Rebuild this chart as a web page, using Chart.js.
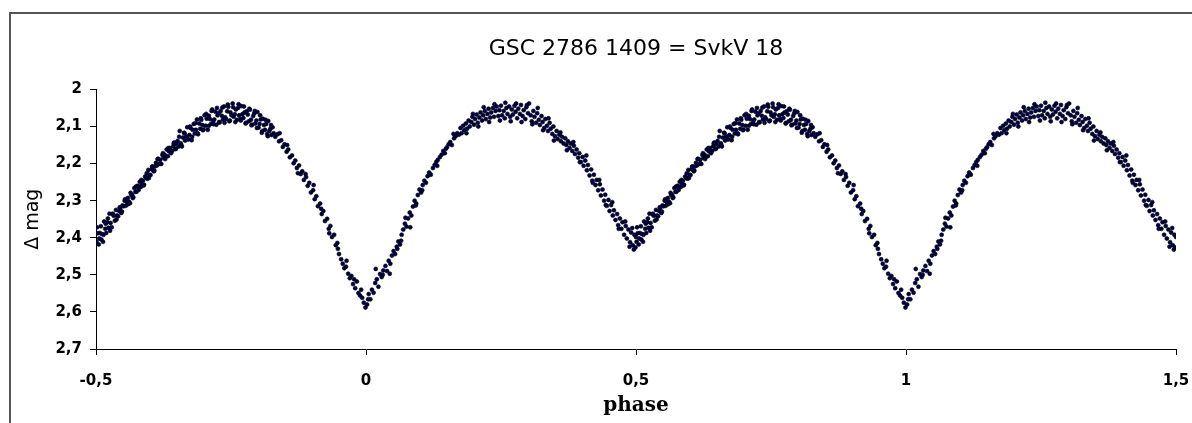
<!DOCTYPE html>
<html>
<head>
<meta charset="utf-8">
<title>GSC 2786 1409 = SvkV 18</title>
<script src="https://cdn.jsdelivr.net/npm/chart.js@4.4.1/dist/chart.umd.min.js"></script>
<style>
  html, body { margin: 0; padding: 0; background: #fff; }
  #wrap { position: relative; width: 1192px; height: 423px; overflow: hidden; }
  #frame { position: absolute; left: 9px; top: 12px; right: -5px; bottom: -5px;
           border-top: 2px solid #555; border-left: 2px solid #555; }
  canvas { position: absolute; left: 0; top: 0; }
</style>
</head>
<body>
<div id="wrap">
  <div id="frame"></div>
  <canvas id="lc" width="1192" height="423"></canvas>
</div>
<script>
// A: secondary minimum up to maximum I
const phaseA = [
  -0.499, -0.497, -0.495, -0.493, -0.491, -0.489, -0.487, -0.485, -0.483, -0.481,
  -0.479, -0.477, -0.475, -0.473, -0.471, -0.469, -0.467, -0.465, -0.463, -0.461,
  -0.459, -0.457, -0.455, -0.453, -0.451, -0.449, -0.447, -0.445, -0.443, -0.441,
  -0.439, -0.437, -0.435, -0.433, -0.431, -0.429, -0.427, -0.425, -0.423, -0.421,
  -0.419, -0.417, -0.415, -0.413, -0.411, -0.409, -0.407, -0.405, -0.403, -0.401,
  -0.399, -0.397, -0.395, -0.393, -0.391, -0.389, -0.387, -0.385, -0.383, -0.381,
  -0.379, -0.377, -0.375, -0.373, -0.371, -0.369, -0.367, -0.365, -0.363, -0.361,
  -0.359, -0.357, -0.355, -0.353, -0.351, -0.349, -0.347, -0.345, -0.343, -0.341,
  -0.339, -0.337, -0.335, -0.333, -0.331, -0.329, -0.327, -0.325, -0.323, -0.321,
  -0.319, -0.317, -0.315, -0.313, -0.311, -0.309, -0.307, -0.305, -0.303, -0.301,
  -0.299, -0.297, -0.295, -0.293, -0.291, -0.289, -0.287, -0.285, -0.283, -0.281,
  -0.279, -0.277, -0.275, -0.273, -0.271, -0.269, -0.267, -0.265, -0.263, -0.261,
  -0.259, -0.257, -0.255, -0.253, -0.251, -0.249, -0.247, -0.245, -0.243, -0.241,
  -0.239, -0.237, -0.235, -0.233, -0.231, -0.229, -0.227, -0.225, -0.223, -0.221,
  -0.219, -0.217, -0.215, -0.213, -0.211, -0.209, -0.207, -0.205, -0.203, -0.201,
  -0.199, -0.197, -0.195, -0.193, -0.191, -0.189, -0.187, -0.185, -0.183, -0.181,
  -0.179, -0.177, -0.175, -0.173, -0.171
];
const magA = [
  2.411, 2.388, 2.418, 2.387, 2.369, 2.390, 2.411, 2.356, 2.376, 2.387,
  2.358, 2.373, 2.335, 2.360, 2.372, 2.335, 2.341, 2.354, 2.325, 2.340,
  2.342, 2.328, 2.319, 2.333, 2.313, 2.315, 2.300, 2.314, 2.304, 2.293,
  2.303, 2.307, 2.285, 2.284, 2.291, 2.266, 2.276, 2.276, 2.260, 2.263,
  2.249, 2.263, 2.256, 2.246, 2.257, 2.235, 2.238, 2.241, 2.217, 2.230,
  2.231, 2.215, 2.208, 2.221, 2.208, 2.198, 2.205, 2.187, 2.201, 2.190,
  2.201, 2.177, 2.184, 2.176, 2.182, 2.162, 2.180, 2.167, 2.158, 2.165,
  2.166, 2.153, 2.143, 2.161, 2.147, 2.139, 2.154, 2.112, 2.145, 2.154,
  2.130, 2.117, 2.138, 2.126, 2.102, 2.135, 2.123, 2.104, 2.137, 2.109,
  2.093, 2.119, 2.109, 2.081, 2.121, 2.092, 2.106, 2.082, 2.096, 2.108,
  2.070, 2.098, 2.079, 2.109, 2.071, 2.080, 2.093, 2.054, 2.085, 2.081,
  2.060, 2.095, 2.070, 2.064, 2.089, 2.058, 2.071, 2.081, 2.046, 2.075,
  2.080, 2.059, 2.047, 2.086, 2.062, 2.070, 2.038, 2.074, 2.067, 2.054,
  2.082, 2.050, 2.070, 2.080, 2.045, 2.067, 2.077, 2.062, 2.092, 2.059,
  2.068, 2.086, 2.055, 2.082, 2.095, 2.072, 2.065, 2.092, 2.084, 2.061,
  2.103, 2.093, 2.081, 2.117, 2.079, 2.096, 2.109, 2.093, 2.120, 2.085,
  2.112, 2.106, 2.123, 2.102, 2.118
];
// A2: more points on the same branch (the densest part of the curve)
const phaseA2 = [
  -0.498, -0.494, -0.490, -0.486, -0.482, -0.478, -0.474, -0.468, -0.462, -0.456,
  -0.452, -0.446, -0.441, -0.436, -0.432, -0.426, -0.421, -0.416, -0.412, -0.406,
  -0.402, -0.396, -0.392, -0.386, -0.381, -0.376, -0.372, -0.366, -0.361, -0.356,
  -0.352, -0.346, -0.342, -0.336, -0.331, -0.326, -0.322, -0.316, -0.312, -0.306,
  -0.302, -0.296, -0.291, -0.286, -0.282, -0.276, -0.272, -0.266, -0.262, -0.256,
  -0.252, -0.246, -0.242, -0.236, -0.232, -0.226, -0.222, -0.216, -0.212, -0.206,
  -0.202, -0.196, -0.192, -0.186, -0.182, -0.176
];
const magA2 = [
  2.372, 2.402, 2.405, 2.392, 2.362, 2.348, 2.381, 2.338, 2.351, 2.318,
  2.329, 2.296, 2.310, 2.279, 2.293, 2.262, 2.271, 2.244, 2.259, 2.226,
  2.239, 2.208, 2.219, 2.188, 2.200, 2.172, 2.188, 2.158, 2.172, 2.146,
  2.160, 2.128, 2.150, 2.118, 2.133, 2.100, 2.128, 2.091, 2.118, 2.078,
  2.110, 2.066, 2.098, 2.058, 2.094, 2.050, 2.088, 2.049, 2.090, 2.041,
  2.084, 2.048, 2.088, 2.040, 2.084, 2.046, 2.090, 2.052, 2.097, 2.058,
  2.104, 2.070, 2.112, 2.082, 2.126, 2.096
];
// B: descent into primary minimum
const phaseB = [
  -0.168, -0.164, -0.161, -0.157, -0.154, -0.151, -0.147, -0.144, -0.141, -0.137,
  -0.134, -0.131, -0.128, -0.124, -0.121, -0.118, -0.115, -0.111, -0.108, -0.105,
  -0.102, -0.098, -0.095, -0.092, -0.089, -0.085, -0.082, -0.079, -0.076, -0.072,
  -0.069, -0.066, -0.063, -0.059, -0.056, -0.053, -0.050, -0.046, -0.043, -0.040,
  -0.037, -0.033, -0.030, -0.027, -0.024, -0.020, -0.017, -0.014, -0.011, -0.007,
  -0.004, -0.001, -0.160, -0.146, -0.126, -0.112, -0.097, -0.083, -0.068, -0.052,
  -0.036, -0.022, -0.009
];
const magB = [
  2.128, 2.121, 2.140, 2.137, 2.155, 2.148, 2.168, 2.162, 2.183, 2.178,
  2.199, 2.192, 2.212, 2.205, 2.228, 2.221, 2.244, 2.236, 2.260, 2.252,
  2.278, 2.272, 2.296, 2.288, 2.315, 2.308, 2.336, 2.328, 2.355, 2.349,
  2.376, 2.368, 2.398, 2.392, 2.420, 2.414, 2.444, 2.458, 2.470, 2.482,
  2.478, 2.497, 2.509, 2.503, 2.525, 2.536, 2.518, 2.549, 2.556, 2.562,
  2.575, 2.588, 2.118, 2.150, 2.226, 2.228, 2.258, 2.322, 2.388, 2.430,
  2.462, 2.512, 2.540
];
// C: rise out of primary minimum
const phaseC = [
  0.002, 0.005, 0.008, 0.011, 0.014, 0.017, 0.020, 0.023, 0.026, 0.029,
  0.032, 0.036, 0.039, 0.042, 0.045, 0.048, 0.051, 0.054, 0.057, 0.060,
  0.063, 0.066, 0.069, 0.072, 0.075, 0.078, 0.081, 0.084, 0.087, 0.090,
  0.093, 0.096, 0.099, 0.102, 0.105, 0.108, 0.111, 0.114, 0.117, 0.120,
  0.124, 0.127, 0.130, 0.133, 0.137, 0.140, 0.143, 0.146, 0.150, 0.153,
  0.156, 0.159, 0.163, 0.166, 0.169, 0.004, 0.018, 0.031, 0.044, 0.058,
  0.065, 0.073, 0.082, 0.092, 0.104, 0.118, 0.132, 0.148, 0.162
];
const magC = [
  2.580, 2.552, 2.566, 2.540, 2.548, 2.522, 2.512, 2.532, 2.498, 2.506,
  2.488, 2.476, 2.490, 2.462, 2.470, 2.448, 2.436, 2.444, 2.424, 2.410,
  2.418, 2.392, 2.378, 2.362, 2.370, 2.348, 2.332, 2.340, 2.316, 2.300,
  2.308, 2.285, 2.270, 2.278, 2.258, 2.246, 2.252, 2.234, 2.224, 2.230,
  2.212, 2.204, 2.196, 2.190, 2.182, 2.176, 2.166, 2.172, 2.156, 2.148,
  2.142, 2.150, 2.132, 2.126, 2.118, 2.566, 2.484, 2.500, 2.497, 2.430,
  2.408, 2.346, 2.372, 2.313, 2.272, 2.228, 2.206, 2.160, 2.120
];
// D: maximum II
const phaseD = [
  0.172, 0.175, 0.177, 0.180, 0.182, 0.185, 0.187, 0.190, 0.192, 0.195,
  0.197, 0.200, 0.202, 0.205, 0.207, 0.210, 0.212, 0.215, 0.217, 0.220,
  0.222, 0.225, 0.227, 0.230, 0.232, 0.235, 0.237, 0.240, 0.242, 0.245,
  0.247, 0.250, 0.252, 0.255, 0.257, 0.260, 0.262, 0.265, 0.267, 0.270,
  0.272, 0.275, 0.277, 0.280, 0.282, 0.285, 0.287, 0.290, 0.292, 0.295,
  0.297, 0.300, 0.302, 0.305, 0.307, 0.310, 0.312, 0.315, 0.317, 0.320,
  0.322, 0.325, 0.327, 0.330, 0.332, 0.335, 0.337, 0.340, 0.342, 0.345,
  0.347, 0.186, 0.198, 0.208, 0.218, 0.228, 0.238, 0.248, 0.258, 0.268,
  0.278, 0.288, 0.298, 0.308, 0.318, 0.328, 0.338
];
const magD = [
  2.122, 2.104, 2.118, 2.098, 2.110, 2.092, 2.106, 2.084, 2.100, 2.088,
  2.074, 2.095, 2.080, 2.068, 2.090, 2.076, 2.062, 2.084, 2.070, 2.058,
  2.080, 2.066, 2.052, 2.076, 2.062, 2.050, 2.074, 2.058, 2.046, 2.072,
  2.056, 2.044, 2.070, 2.058, 2.078, 2.050, 2.066, 2.046, 2.074, 2.054,
  2.068, 2.044, 2.060, 2.078, 2.052, 2.066, 2.042, 2.072, 2.056, 2.080,
  2.048, 2.064, 2.038, 2.070, 2.086, 2.058, 2.074, 2.090, 2.064, 2.082,
  2.096, 2.072, 2.088, 2.104, 2.080, 2.098, 2.112, 2.090, 2.106, 2.120,
  2.100, 2.118, 2.066, 2.100, 2.048, 2.088, 2.040, 2.084, 2.036, 2.086,
  2.038, 2.088, 2.042, 2.094, 2.050, 2.110, 2.078
];
// E: descent into secondary minimum
const phaseE = [
  0.350, 0.353, 0.355, 0.358, 0.361, 0.363, 0.366, 0.369, 0.371, 0.374,
  0.377, 0.379, 0.382, 0.385, 0.387, 0.390, 0.393, 0.395, 0.398, 0.401,
  0.403, 0.406, 0.409, 0.411, 0.414, 0.417, 0.419, 0.422, 0.425, 0.427,
  0.430, 0.433, 0.435, 0.438, 0.441, 0.443, 0.446, 0.449, 0.451, 0.454,
  0.457, 0.459, 0.462, 0.465, 0.467, 0.470, 0.473, 0.475, 0.478, 0.481,
  0.483, 0.486, 0.489, 0.491, 0.494, 0.497, 0.499, 0.348, 0.360, 0.372,
  0.384, 0.396, 0.408, 0.420, 0.432, 0.444, 0.456, 0.468, 0.480, 0.488,
  0.493, 0.496, 0.500
];
const magE = [
  2.126, 2.112, 2.134, 2.122, 2.140, 2.128, 2.146, 2.132, 2.150, 2.140,
  2.158, 2.146, 2.166, 2.152, 2.174, 2.162, 2.184, 2.172, 2.196, 2.182,
  2.206, 2.192, 2.218, 2.204, 2.232, 2.216, 2.246, 2.230, 2.258, 2.244,
  2.272, 2.256, 2.286, 2.270, 2.300, 2.284, 2.314, 2.298, 2.328, 2.312,
  2.340, 2.326, 2.352, 2.336, 2.366, 2.348, 2.376, 2.358, 2.392, 2.368,
  2.402, 2.378, 2.412, 2.386, 2.420, 2.392, 2.426, 2.138, 2.116, 2.164,
  2.142, 2.196, 2.178, 2.252, 2.244, 2.312, 2.304, 2.376, 2.356, 2.424,
  2.374, 2.432, 2.398
];

const xTicks = [-0.5, 0, 0.5, 1, 1.5];
const yTicks = [2, 2.1, 2.2, 2.3, 2.4, 2.5, 2.6, 2.7];

const phase = [].concat(phaseA, phaseA2, phaseB, phaseC, phaseD, phaseE);
const dmag = [].concat(magA, magA2, magB, magC, magD, magE);

// the folded curve is shown twice, the second time one cycle later
const points = [];
phase.forEach((p, i) => points.push({ x: p, y: dmag[i] }));
phase.forEach((p, i) => points.push({ x: p + 1, y: dmag[i] }));

const fmt = v => String(Math.round(v * 10) / 10).replace('.', ',');
const tickFont = { family: 'DejaVu Sans', size: 15, weight: 'bold' };

new Chart(document.getElementById('lc'), {
  type: 'scatter',
  data: {
    datasets: [{
      data: points,
      pointRadius: 2,
      pointHoverRadius: 2,
      backgroundColor: '#00004d',
      borderColor: '#000',
      borderWidth: 0.6
    }]
  },
  options: {
    responsive: false,
    animation: false,
    layout: { padding: { left: 0, right: 16, top: 0, bottom: 0 } },
    plugins: {
      legend: { display: false },
      tooltip: { enabled: false },
      title: {
        display: true,
        fullSize: false,
        text: 'GSC 2786 1409 = SvkV 18',
        color: '#000',
        font: { family: 'DejaVu Sans', size: 22, weight: 'normal' },
        padding: { top: 36, bottom: 27 }
      }
    },
    scales: {
      x: {
        type: 'linear',
        min: xTicks[0],
        max: xTicks[xTicks.length - 1],
        afterFit: s => { s.height = 74; s.paddingLeft = 0; s.paddingRight = 0; },
        afterBuildTicks: s => { s.ticks = xTicks.map(v => ({ value: v })); },
        ticks: { callback: fmt, color: '#000', font: tickFont, padding: 17, maxRotation: 0 },
        grid: { drawOnChartArea: false, drawTicks: true, tickLength: 6, color: '#000' },
        border: { display: true, color: '#000', width: 1 },
        title: {
          display: true, text: 'phase', color: '#000',
          font: { family: 'DejaVu Serif', size: 20, weight: 'bold' },
          padding: { top: 0, bottom: 5 }
        }
      },
      y: {
        type: 'linear',
        reverse: true,
        min: yTicks[0],
        max: yTicks[yTicks.length - 1],
        afterFit: s => { s.width = 96; s.paddingTop = 0; s.paddingBottom = 0; },
        afterBuildTicks: s => { s.ticks = yTicks.map(v => ({ value: v })); },
        ticks: { callback: fmt, color: '#000', font: tickFont, padding: 8 },
        grid: { drawOnChartArea: false, drawTicks: true, tickLength: 6, color: '#000' },
        border: { display: true, color: '#000', width: 1 },
        title: {
          display: true, text: 'Δ mag', color: '#000',
          font: { family: 'DejaVu Sans', size: 19, weight: 'normal' },
          padding: { top: 22, bottom: 0 }
        }
      }
    }
  }
});
</script>
</body>
</html>
